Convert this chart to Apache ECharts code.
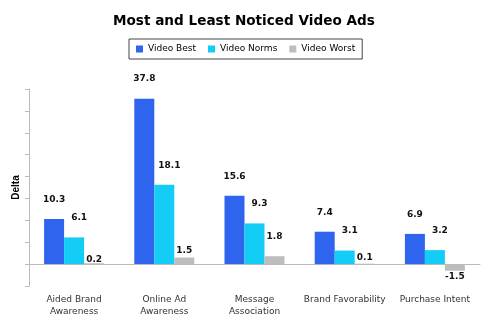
<!DOCTYPE html>
<html>
<head>
<meta charset="utf-8">
<script src="https://cdn.jsdelivr.net/npm/echarts@6/dist/echarts.min.js"></script>
<style>
  html, body { margin: 0; padding: 0; background: #ffffff; }
  #chart { width: 500px; height: 326px; }
</style>
</head>
<body>
<div id="chart"></div>
<script>
// Ad metrics compared across best, norm and worst performing video ads
const categories = ['Aided Brand\nAwareness', 'Online Ad\nAwareness', 'Message\nAssociation', 'Brand Favorability', 'Purchase Intent'];
const videoBest = [10.3, 37.8, 15.6, 7.4, 6.9];
const videoNorms = [6.1, 18.1, 9.3, 3.1, 3.2];
const videoWorst = [0.2, 1.5, 1.8, 0.1, -1.5];
const seriesNames = ['Video Best', 'Video Norms', 'Video Worst'];

const colors = ['#2f64ee', '#14cdf6', '#bdbdbd'];

// label distance tweaks for the shortest bars so their labels sit close to the bar
const labelDistance = { 'Video Worst': [-1, 2, 15, 2, 1] };

function makeData(name, values) {
  return values.map(function (v, i) {
    const item = { value: v };
    const d = labelDistance[name] ? labelDistance[name][i] : 15;
    item.label = { position: v < 0 ? 'bottom' : 'top', distance: d };
    return item;
  });
}

const valueSets = [videoBest, videoNorms, videoWorst];

const chart = echarts.init(document.getElementById('chart'), null, { renderer: 'canvas' });
chart.setOption({
  animation: false,
  backgroundColor: '#ffffff',
  title: {
    text: 'Most and Least Noticed Video Ads',
    left: 113,
    top: 14,
    padding: 0,
    textStyle: { fontFamily: 'DejaVu Sans', fontWeight: 'bold', fontSize: 13.6, color: '#000000' }
  },
  legend: {
    left: 129,
    top: 39,
    padding: [4, 7],
    itemGap: 12,
    itemWidth: 7,
    itemHeight: 7,
    icon: 'rect',
    borderColor: '#444444',
    borderWidth: 1,
    data: seriesNames,
    textStyle: { fontFamily: 'DejaVu Sans', fontSize: 9, lineHeight: 12, color: '#000000' }
  },
  grid: { left: 29, right: 20, top: 89, bottom: 40, containLabel: false, outerBoundsMode: 'none' },
  xAxis: {
    type: 'category',
    data: categories,
    axisLine: { onZero: true, lineStyle: { color: '#bbbbbb', width: 1 } },
    axisTick: { length: 4, lineStyle: { color: '#bbbbbb' } },
    axisLabel: { margin: 8, fontFamily: 'DejaVu Sans', fontSize: 9, lineHeight: 12, color: '#333333', interval: 0 }
  },
  yAxis: {
    type: 'value',
    min: -5,
    max: 40,
    interval: 5,
    name: 'Delta',
    nameLocation: 'middle',
    nameRotate: 90,
    nameGap: 8,
    nameTextStyle: { fontFamily: 'Liberation Sans', fontWeight: 'bold', fontSize: 10, color: '#000000' },
    axisLine: { show: true, lineStyle: { color: '#bbbbbb', width: 1 } },
    axisTick: { show: true, length: 4, lineStyle: { color: '#bbbbbb' } },
    axisLabel: { show: false },
    splitLine: { show: false }
  },
  series: seriesNames.map(function (name, k) {
    return {
      name: name,
      type: 'bar',
      barWidth: 20,
      barGap: '0%',
      itemStyle: { color: colors[k] },
      label: {
        show: true,
        offset: k === 1 ? [5, 0] : [0, 0],
        fontFamily: 'DejaVu Sans',
        fontWeight: 'bold',
        fontSize: 9,
        color: '#111111'
      },
      data: makeData(name, valueSets[k])
    };
  })
});
</script>
</body>
</html>
